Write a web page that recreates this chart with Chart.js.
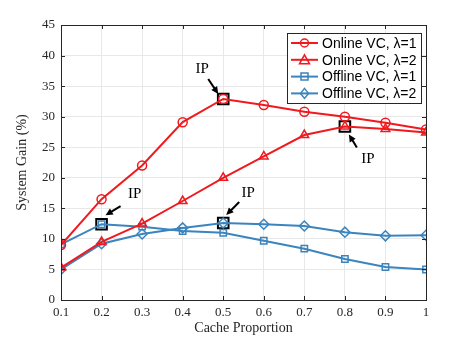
<!DOCTYPE html>
<html>
<head>
<meta charset="utf-8">
<script src="https://cdn.jsdelivr.net/npm/chart.js@4.4.0/dist/chart.umd.min.js"></script>
<style>
  html, body { margin: 0; padding: 0; background: #fff; }
  #wrap { width: 471px; height: 337px; }
</style>
</head>
<body>
<div id="wrap"><canvas id="c" width="471" height="337"></canvas></div>
<script>
// данные
const cacheProportion = [0.1, 0.2, 0.3, 0.4, 0.5, 0.6, 0.7, 0.8, 0.9, 1.0];
const onlineL1  = [9.0, 16.5, 22.0, 29.1, 32.9, 31.9, 30.8, 30.0, 29.0, 27.9];
const onlineL2  = [5.3, 9.5, 12.5, 16.2, 20.0, 23.5, 27.0, 28.4, 28.0, 27.4];
const offlineL1 = [9.1, 12.4, 12.0, 11.3, 11.0, 9.7, 8.4, 6.7, 5.4, 5.0];
const offlineL2 = [5.0, 9.2, 10.8, 11.8, 12.6, 12.4, 12.1, 11.1, 10.5, 10.6];
const seriesNames = ['Online VC, λ=1', 'Online VC, λ=2', 'Offline VC, λ=1', 'Offline VC, λ=2'];
// точки IP
const ipX = [0.5, 0.8, 0.2, 0.5];
const ipY = [32.9, 28.4, 12.4, 12.6];
const yTicks = [0, 5, 10, 15, 20, 25, 30, 35, 40, 45];

const RED = '#f0191e';
const BLUE = '#3b84bd';
const SERIF = '"Liberation Serif", "Times New Roman", serif';
const SANS = '"Liberation Sans", Arial, sans-serif';

function xy(xs, ys) {
    return xs.map((x, i) => ({ x: x, y: ys[i] }));
}

function makeSet(label, ys, color, style, r) {
    return {
        label: label,
        data: xy(cacheProportion, ys),
        borderColor: color,
        backgroundColor: 'rgba(0,0,0,0)',
        borderWidth: 2,
        pointStyle: style,
        pointRadius: r,
        pointBorderWidth: 1.5,
        pointBorderColor: color,
        pointBackgroundColor: 'rgba(0,0,0,0)',
        tension: 0
    };
}

const datasets = [
    makeSet(seriesNames[0], onlineL1, RED, 'circle', 4.5),
    makeSet(seriesNames[1], onlineL2, RED, 'triangle', 5),
    makeSet(seriesNames[2], offlineL1, BLUE, 'rect', 4.5),
    makeSet(seriesNames[3], offlineL2, BLUE, 'rectRot', 5),
    {
        label: 'IP',
        data: xy(ipX, ipY),
        showLine: false,
        pointStyle: 'rect',
        pointRadius: 7.5,
        pointBorderWidth: 2,
        pointBorderColor: '#000',
        pointBackgroundColor: 'rgba(0,0,0,0)'
    }
];

// подписи IP со стрелками: смещения относительно точки (в пикселях)
const ipNotes = [
    { tip: [-5, -5], tail: [-15, -20], text: [-21, -30] },
    { tip: [4, 8], tail: [12, 21], text: [23, 33] },
    { tip: [4, -9], tail: [19, -18], text: [33, -30] },
    { tip: [3, -8], tail: [16, -21], text: [25, -30] }
];

function arrow(ctx, x0, y0, x1, y1) {
    const a = Math.atan2(y1 - y0, x1 - x0);
    const L = 8, W = 0.45;
    ctx.beginPath();
    ctx.moveTo(x0, y0);
    ctx.lineTo(x1 - 4 * Math.cos(a), y1 - 4 * Math.sin(a));
    ctx.stroke();
    ctx.beginPath();
    ctx.moveTo(x1, y1);
    ctx.lineTo(x1 - L * Math.cos(a - W), y1 - L * Math.sin(a - W));
    ctx.lineTo(x1 - L * Math.cos(a + W), y1 - L * Math.sin(a + W));
    ctx.closePath();
    ctx.fill();
}

function drawMarker(ctx, style, x, y, color) {
    ctx.strokeStyle = color;
    ctx.lineWidth = 1.5;
    ctx.beginPath();
    if (style === 'circle') {
        ctx.arc(x, y, 4, 0, Math.PI * 2);
    } else if (style === 'triangle') {
        ctx.moveTo(x, y - 5); ctx.lineTo(x + 5, y + 4); ctx.lineTo(x - 5, y + 4); ctx.closePath();
    } else if (style === 'rect') {
        ctx.rect(x - 3.5, y - 3.5, 7, 7);
    } else {
        ctx.moveTo(x, y - 5); ctx.lineTo(x + 4, y); ctx.lineTo(x, y + 5); ctx.lineTo(x - 4, y); ctx.closePath();
    }
    ctx.stroke();
}

const framePlugin = {
    id: 'frame',
    afterDraw(chart) {
        const ctx = chart.ctx;
        const a = chart.chartArea;
        const xs = chart.scales.x, ys = chart.scales.y;
        ctx.save();
        // рамка осей
        ctx.strokeStyle = '#262626';
        ctx.lineWidth = 1;
        ctx.strokeRect(a.left + 0.5, a.top + 0.5, a.right - a.left, a.bottom - a.top);
        // внутренние засечки
        ctx.beginPath();
        cacheProportion.forEach(v => {
            const px = Math.round(xs.getPixelForValue(v)) + 0.5;
            ctx.moveTo(px, a.bottom); ctx.lineTo(px, a.bottom - 4);
            ctx.moveTo(px, a.top); ctx.lineTo(px, a.top + 4);
        });
        yTicks.forEach(v => {
            const py = Math.round(ys.getPixelForValue(v)) + 0.5;
            ctx.moveTo(a.left, py); ctx.lineTo(a.left + 4, py);
            ctx.moveTo(a.right, py); ctx.lineTo(a.right - 4, py);
        });
        ctx.stroke();

        // стрелки IP
        ctx.strokeStyle = '#000';
        ctx.fillStyle = '#000';
        ctx.lineWidth = 2;
        ctx.font = '15px ' + SERIF;
        ctx.textAlign = 'center';
        ctx.textBaseline = 'middle';
        ipX.forEach((v, i) => {
            const px = xs.getPixelForValue(v);
            const py = ys.getPixelForValue(ipY[i]);
            const n = ipNotes[i];
            arrow(ctx, px + n.tail[0], py + n.tail[1], px + n.tip[0], py + n.tip[1]);
            ctx.fillText('IP', px + n.text[0], py + n.text[1]);
        });

        // легенда
        const lx = 287, ly = 33, lw = 134, lh = 70;
        ctx.fillStyle = '#fff';
        ctx.fillRect(lx, ly, lw, lh);
        ctx.strokeStyle = '#262626';
        ctx.lineWidth = 1;
        ctx.strokeRect(lx + 0.5, ly + 0.5, lw, lh);
        ctx.font = '14px ' + SANS;
        ctx.textAlign = 'left';
        ctx.textBaseline = 'middle';
        for (let i = 0; i < 4; i++) {
            const ds = chart.data.datasets[i];
            const ry = ly + 10 + i * 16.8;
            ctx.strokeStyle = ds.borderColor;
            ctx.lineWidth = 2;
            ctx.beginPath();
            ctx.moveTo(lx + 4, ry); ctx.lineTo(lx + 31, ry);
            ctx.stroke();
            drawMarker(ctx, ds.pointStyle, lx + 17.5, ry, ds.borderColor);
            ctx.fillStyle = '#000';
            ctx.fillText(ds.label, lx + 35, ry + 1);
        }
        ctx.restore();
    }
};

new Chart(document.getElementById('c'), {
    type: 'line',
    data: { datasets: datasets },
    plugins: [framePlugin],
    options: {
        responsive: false,
        animation: false,
        layout: { padding: { left: 0, right: 45, top: 25, bottom: 0 } },
        plugins: {
            legend: { display: false },
            tooltip: { enabled: false }
        },
        scales: {
            x: {
                type: 'linear',
                min: 0.1,
                max: 1,
                afterFit: s => { s.height = 37; },
                afterBuildTicks: s => { s.ticks = cacheProportion.map(v => ({ value: v })); },
                grid: { color: '#e8e8e8', drawTicks: false },
                border: { display: false },
                ticks: {
                    padding: 5,
                    color: '#262626',
                    font: { family: SERIF, size: 13 },
                    callback: v => (Math.abs(v - 1) < 1e-9 ? '1' : v.toFixed(1))
                },
                title: {
                    display: true,
                    text: 'Cache Proportion',
                    color: '#262626',
                    padding: { top: 0, bottom: 0 },
                    font: { family: SERIF, size: 14 }
                }
            },
            y: {
                min: 0,
                max: 45,
                afterFit: s => { s.width = 61; },
                afterBuildTicks: s => { s.ticks = yTicks.map(v => ({ value: v })); },
                grid: { color: '#e8e8e8', drawTicks: false },
                border: { display: false },
                ticks: {
                    padding: 6,
                    color: '#262626',
                    font: { family: SERIF, size: 13 }
                },
                title: {
                    display: true,
                    text: 'System Gain (%)',
                    color: '#262626',
                    padding: { top: 14, bottom: 0 },
                    font: { family: SERIF, size: 14 }
                }
            }
        }
    }
});
</script>
</body>
</html>
